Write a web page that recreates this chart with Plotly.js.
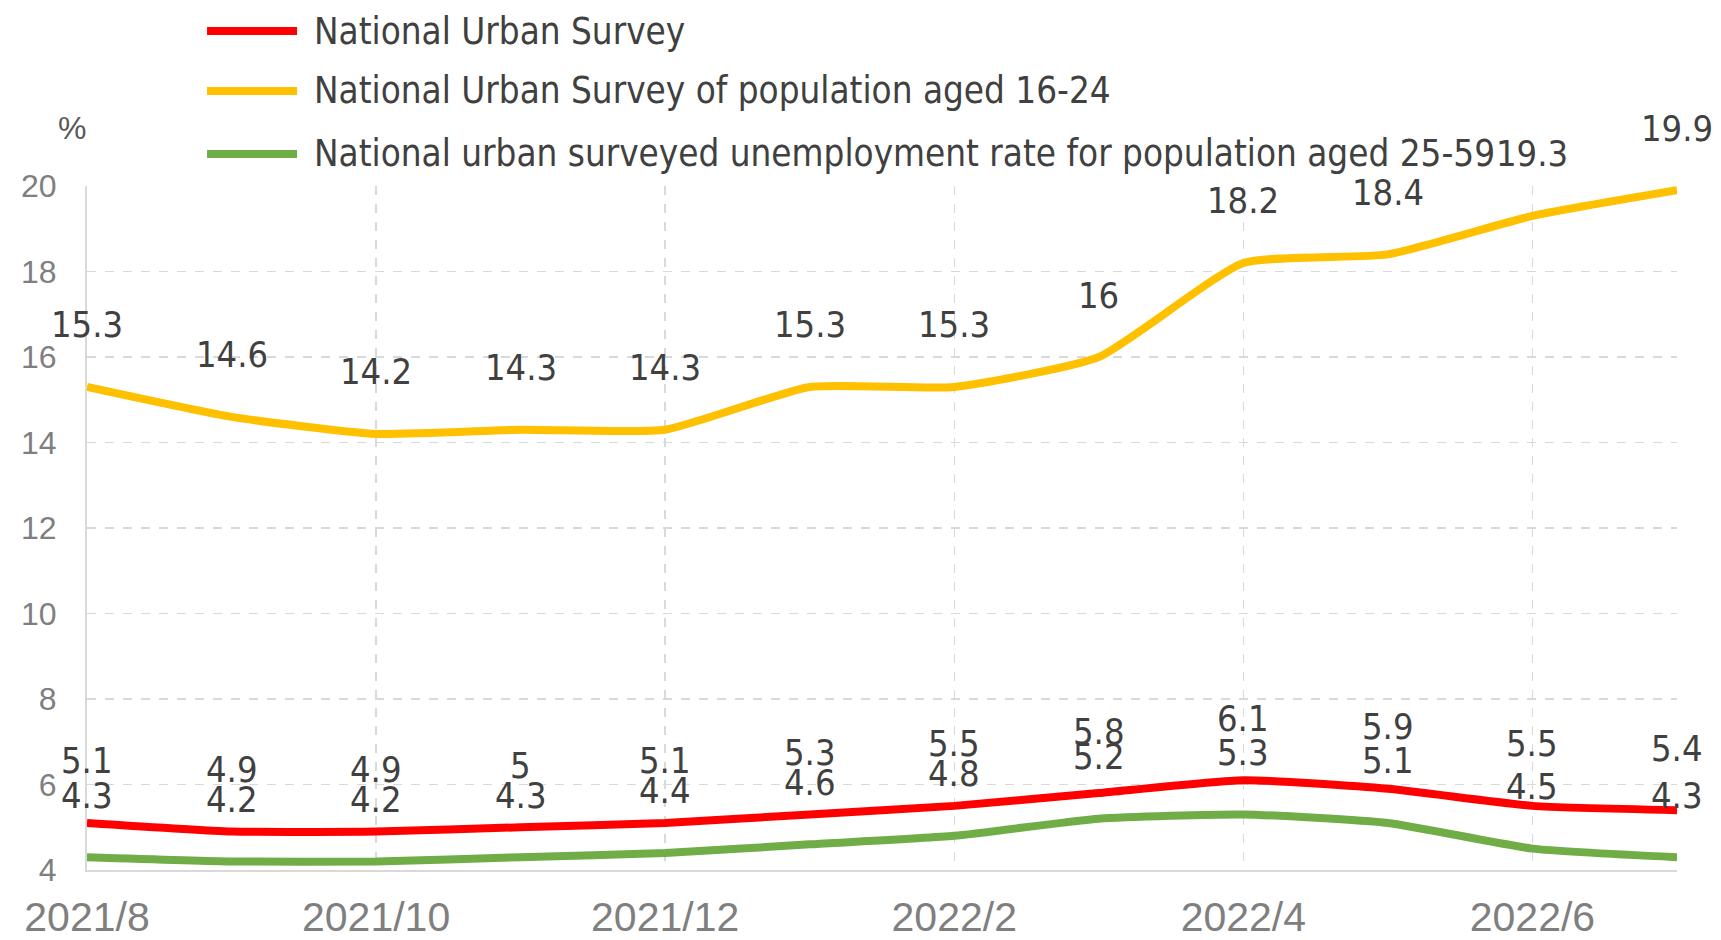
<!DOCTYPE html>
<html>
<head>
<meta charset="utf-8">
<script src="https://cdn.plot.ly/plotly-3.0.1.min.js"></script>
<style>
  html, body { margin: 0; padding: 0; background: #ffffff; }
  #chart { width: 1721px; height: 940px; }
</style>
</head>
<body>
<div id="chart"></div>
<script>
// ---- Data ----
const months = ["2021/8","2021/9","2021/10","2021/11","2021/12","2022/1","2022/2","2022/3","2022/4","2022/5","2022/6","2022/7"];
const seriesNames = [
  "National Urban Survey",
  "National Urban Survey of population aged 16-24",
  "National urban surveyed unemployment rate for population aged 25-59"
];
const nationalRate = [5.1, 4.9, 4.9, 5.0, 5.1, 5.3, 5.5, 5.8, 6.1, 5.9, 5.5, 5.4];
const youthRate    = [15.3, 14.6, 14.2, 14.3, 14.3, 15.3, 15.3, 16, 18.2, 18.4, 19.3, 19.9];
const primeRate    = [4.3, 4.2, 4.2, 4.3, 4.4, 4.6, 4.8, 5.2, 5.3, 5.1, 4.5, 4.3];
const yTicks = [4, 6, 8, 10, 12, 14, 16, 18, 20];
const yUnit = "%";

// ---- Styles ----
const colors = ["#FF0000", "#FFC000", "#70AD47"];
const labelFont = "'Liberation Sans Narrow', 'DejaVu Sans Condensed', 'Arial Narrow', sans-serif";
const tickFont = "'Liberation Sans', Arial, sans-serif";
const allSeries = [nationalRate, youthRate, primeRate];

const traces = allSeries.map((vals, i) => ({
  type: "scatter",
  mode: "lines",
  x: months,
  y: vals,
  name: seriesNames[i],
  line: { color: colors[i], width: 8, shape: "spline", smoothing: 0.5 },
  hoverinfo: "x+y+name",
  showlegend: false
}));

const annotations = [];
allSeries.forEach((vals, i) => {
  vals.forEach((v, j) => {
    annotations.push({
      x: months[j], y: v, xref: "x", yref: "y",
      text: String(v), showarrow: false,
      yanchor: "middle", xanchor: "center", yshift: 62,
      font: { family: labelFont, size: 36, color: "#404040" }
    });
  });
});

// custom legend (long line swatches as in the reference)
const legendY = [1.2266, 1.1389, 1.0468];
const shapes = [];
seriesNames.forEach((name, i) => {
  shapes.push({
    type: "line", xref: "paper", yref: "paper",
    x0: 0.0755, x1: 0.1321, y0: legendY[i], y1: legendY[i],
    line: { color: colors[i], width: 8 }
  });
  annotations.push({
    xref: "paper", yref: "paper", x: 0.1415, y: legendY[i],
    xanchor: "left", yanchor: "middle", showarrow: false,
    text: name,
    font: { family: labelFont, size: 36.5, color: "#404040" }
  });
});

// y unit label
annotations.push({
  xref: "paper", yref: "paper", x: -0.0094, y: 1.085,
  xanchor: "center", yanchor: "middle", showarrow: false,
  text: yUnit, font: { family: tickFont, size: 32, color: "#595959" }
});

const layout = {
  width: 1721, height: 940,
  paper_bgcolor: "#ffffff", plot_bgcolor: "#ffffff",
  margin: { l: 87, r: 44, t: 186, b: 70, pad: 0 },
  showlegend: false,
  xaxis: {
    type: "category",
    range: [0, months.length - 1],
    tickmode: "linear", tick0: 0, dtick: 2,
    showgrid: true, gridcolor: "#d9d9d9", griddash: "dash", gridwidth: 1.5,
    showline: true, linecolor: "#d9d9d9", linewidth: 2,
    ticks: "", zeroline: false,
    tickfont: { family: tickFont, size: 41, color: "#7f7f7f" },
    ticklabelstandoff: 10
  },
  yaxis: {
    range: [4, 20],
    tickmode: "array", tickvals: yTicks, ticktext: yTicks.map(String),
    showgrid: true, gridcolor: "#d9d9d9", griddash: "dash", gridwidth: 1.5,
    showline: true, linecolor: "#d9d9d9", linewidth: 2,
    ticks: "", zeroline: false,
    tickfont: { family: tickFont, size: 32, color: "#7f7f7f" },
    ticklabelstandoff: 22
  },
  shapes: shapes,
  annotations: annotations
};

Plotly.newPlot("chart", traces, layout, { displayModeBar: false, staticPlot: true });
</script>
</body>
</html>
